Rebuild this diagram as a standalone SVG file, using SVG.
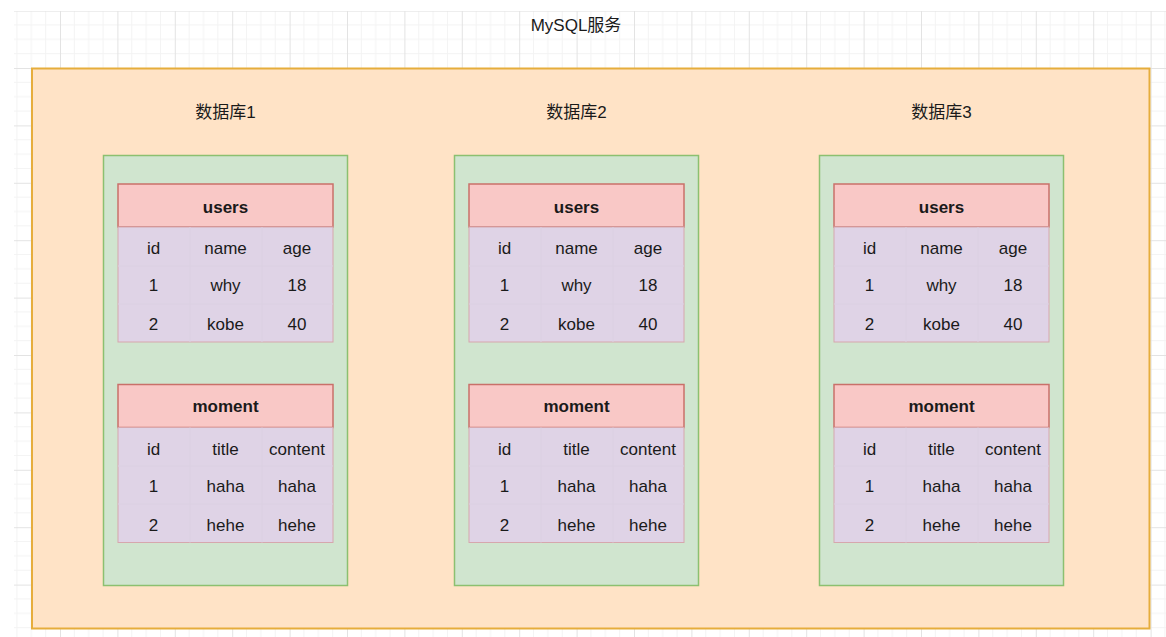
<svg xmlns="http://www.w3.org/2000/svg" width="1166" height="637" viewBox="0 0 1166 637">
  <defs>
    <pattern id="grid" x="2.6" y="10.6" width="57.4" height="57.4" patternUnits="userSpaceOnUse">
      <path d="M14.35 0V57.4M28.7 0V57.4M43.05 0V57.4M0 14.35H57.4M0 28.7H57.4M0 43.05H57.4" stroke="#f3f3f3" stroke-width="1" fill="none"/>
      <path d="M0.5 0V57.4M0 0.5H57.4" stroke="#e3e3e3" stroke-width="1" fill="none"/>
    </pattern>
    <style>
      .txt { font-family: "Liberation Sans", Arial, "Noto Sans CJK SC", sans-serif; font-size: 17px; fill: #1a1a1a; text-anchor: middle; }
      .bold { font-weight: bold; }
      .server { fill: #ffe3c6; stroke: #e6ad3c; stroke-width: 2; }
      .db { fill: #d0e5cf; stroke: #8cc070; stroke-width: 1.5; }
      .head { fill: #f9c8c6; stroke: #c9706a; stroke-width: 1.5; }
      .body { fill: #dfd3e6; stroke: #d6a7ad; stroke-width: 1; }
      .sep { stroke: #dbd0e2; stroke-width: 1; }
    </style>
  </defs>
  <rect x="0" y="0" width="1166" height="637" fill="#ffffff"/>
  <rect x="14" y="11" width="1152" height="626" fill="url(#grid)"/>

  <g id="mysql-service">
    <rect class="server" x="32" y="68.5" width="1117.5" height="560"/>
    <text class="txt" x="576" y="31">MySQL服务</text>
  </g>

  <g id="db1">
    <text class="txt" x="225.5" y="118">数据库1</text>
    <rect class="db" x="103.5" y="155.5" width="244" height="430"/>
    <g id="db1-users">
      <rect class="head" x="118" y="184" width="215" height="43"/>
      <text class="txt bold" x="225.5" y="213">users</text>
      <rect class="body" x="118" y="227" width="215" height="115"/>
      <path class="sep" d="M118 266H333M118 304H333M190 227V342M262 227V342"/>
      <text class="txt" x="153.5" y="254">id</text><text class="txt" x="225.5" y="254">name</text><text class="txt" x="297" y="254">age</text>
      <text class="txt" x="153.5" y="291">1</text><text class="txt" x="225.5" y="291">why</text><text class="txt" x="297" y="291">18</text>
      <text class="txt" x="153.5" y="330">2</text><text class="txt" x="225.5" y="330">kobe</text><text class="txt" x="297" y="330">40</text>
    </g>
    <g id="db1-moment">
      <rect class="head" x="118" y="384.5" width="215" height="43"/>
      <text class="txt bold" x="225.5" y="412">moment</text>
      <rect class="body" x="118" y="427.5" width="215" height="115"/>
      <path class="sep" d="M118 466H333M118 504H333M190 427.5V542.5M262 427.5V542.5"/>
      <text class="txt" x="153.5" y="455">id</text><text class="txt" x="225.5" y="455">title</text><text class="txt" x="297" y="455">content</text>
      <text class="txt" x="153.5" y="491.5">1</text><text class="txt" x="225.5" y="491.5">haha</text><text class="txt" x="297" y="491.5">haha</text>
      <text class="txt" x="153.5" y="531">2</text><text class="txt" x="225.5" y="531">hehe</text><text class="txt" x="297" y="531">hehe</text>
    </g>
  </g>

  <g id="db2" transform="translate(351,0)">
    <text class="txt" x="225.5" y="118">数据库2</text>
    <rect class="db" x="103.5" y="155.5" width="244" height="430"/>
    <g id="db2-users">
      <rect class="head" x="118" y="184" width="215" height="43"/>
      <text class="txt bold" x="225.5" y="213">users</text>
      <rect class="body" x="118" y="227" width="215" height="115"/>
      <path class="sep" d="M118 266H333M118 304H333M190 227V342M262 227V342"/>
      <text class="txt" x="153.5" y="254">id</text><text class="txt" x="225.5" y="254">name</text><text class="txt" x="297" y="254">age</text>
      <text class="txt" x="153.5" y="291">1</text><text class="txt" x="225.5" y="291">why</text><text class="txt" x="297" y="291">18</text>
      <text class="txt" x="153.5" y="330">2</text><text class="txt" x="225.5" y="330">kobe</text><text class="txt" x="297" y="330">40</text>
    </g>
    <g id="db2-moment">
      <rect class="head" x="118" y="384.5" width="215" height="43"/>
      <text class="txt bold" x="225.5" y="412">moment</text>
      <rect class="body" x="118" y="427.5" width="215" height="115"/>
      <path class="sep" d="M118 466H333M118 504H333M190 427.5V542.5M262 427.5V542.5"/>
      <text class="txt" x="153.5" y="455">id</text><text class="txt" x="225.5" y="455">title</text><text class="txt" x="297" y="455">content</text>
      <text class="txt" x="153.5" y="491.5">1</text><text class="txt" x="225.5" y="491.5">haha</text><text class="txt" x="297" y="491.5">haha</text>
      <text class="txt" x="153.5" y="531">2</text><text class="txt" x="225.5" y="531">hehe</text><text class="txt" x="297" y="531">hehe</text>
    </g>
  </g>

  <g id="db3" transform="translate(716,0)">
    <text class="txt" x="225.5" y="118">数据库3</text>
    <rect class="db" x="103.5" y="155.5" width="244" height="430"/>
    <g id="db3-users">
      <rect class="head" x="118" y="184" width="215" height="43"/>
      <text class="txt bold" x="225.5" y="213">users</text>
      <rect class="body" x="118" y="227" width="215" height="115"/>
      <path class="sep" d="M118 266H333M118 304H333M190 227V342M262 227V342"/>
      <text class="txt" x="153.5" y="254">id</text><text class="txt" x="225.5" y="254">name</text><text class="txt" x="297" y="254">age</text>
      <text class="txt" x="153.5" y="291">1</text><text class="txt" x="225.5" y="291">why</text><text class="txt" x="297" y="291">18</text>
      <text class="txt" x="153.5" y="330">2</text><text class="txt" x="225.5" y="330">kobe</text><text class="txt" x="297" y="330">40</text>
    </g>
    <g id="db3-moment">
      <rect class="head" x="118" y="384.5" width="215" height="43"/>
      <text class="txt bold" x="225.5" y="412">moment</text>
      <rect class="body" x="118" y="427.5" width="215" height="115"/>
      <path class="sep" d="M118 466H333M118 504H333M190 427.5V542.5M262 427.5V542.5"/>
      <text class="txt" x="153.5" y="455">id</text><text class="txt" x="225.5" y="455">title</text><text class="txt" x="297" y="455">content</text>
      <text class="txt" x="153.5" y="491.5">1</text><text class="txt" x="225.5" y="491.5">haha</text><text class="txt" x="297" y="491.5">haha</text>
      <text class="txt" x="153.5" y="531">2</text><text class="txt" x="225.5" y="531">hehe</text><text class="txt" x="297" y="531">hehe</text>
    </g>
  </g>

  <g id="connectors"></g>
</svg>
